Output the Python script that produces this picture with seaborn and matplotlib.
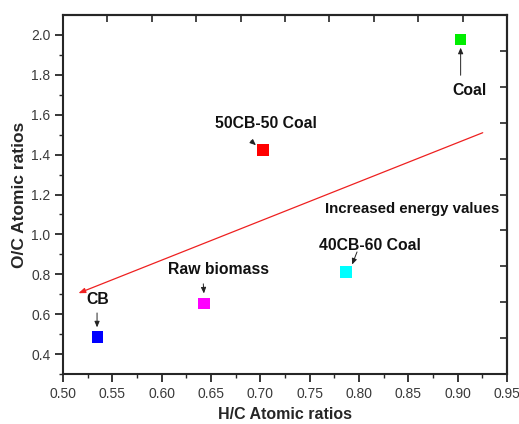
import seaborn as sns
import matplotlib.pyplot as plt
import pandas as pd
import numpy as np

# samples and their atomic ratios
samples = ['CB', 'Raw biomass', '40CB-60 Coal', '50CB-50 Coal', 'Coal']
hc = [0.535, 0.643, 0.787, 0.703, 0.903]
oc = [0.487, 0.654, 0.81, 1.423, 1.978]
colors = ['#0000ff', '#ff00ff', '#00ffff', '#ff0000', '#00ee00']

df = pd.DataFrame({'sample': samples, 'hc': hc, 'oc': oc})

sns.set_style('ticks')
plt.rcParams['font.family'] = ['Liberation Sans', 'DejaVu Sans']

fig = plt.figure(figsize=(5.19, 4.24), dpi=100)
ax = fig.add_axes([0.1214, 0.1179, 0.8555, 0.8467])

sns.scatterplot(data=df, x='hc', y='oc', hue='sample', palette=colors,
                marker='s', s=70, edgecolor='none', legend=False, ax=ax)

# labels with small arrows (text pos, arrow tail, arrow head)
labels = [
    ('CB', (0.5355, 0.676), (0.5345, 0.62), (0.5345, 0.52)),
    ('Raw biomass', (0.658, 0.826), (0.642, 0.766), (0.643, 0.69)),
    ('40CB-60 Coal', (0.8106, 0.942), (0.799, 0.925), (0.792, 0.836)),
    ('50CB-50 Coal', (0.706, 1.558), (0.6885, 1.478), (0.6976, 1.438)),
    ('Coal', (0.9115, 1.724), (0.903, 1.784), (0.903, 1.95)),
]
for txt, pos, tail, head in labels:
    ax.text(pos[0], pos[1], txt, ha='center', va='center', fontsize=11.3,
            fontweight='bold', color='#111111')
    ax.annotate('', xy=head, xytext=tail,
                arrowprops=dict(arrowstyle='-|>,head_length=0.35,head_width=0.15',
                                color='#222222', lw=0.7))

ax.annotate('', xy=(0.513, 0.70), xytext=(0.928, 1.515),
            arrowprops=dict(arrowstyle='-|>,head_length=0.4,head_width=0.15',
                            color='#ee2020', lw=0.9))
ax.text(0.854, 1.127, 'Increased energy values', ha='center', va='center',
        fontsize=10.8, fontweight='bold', color='#111111')

ax.set_xlim(0.5, 0.95)
ax.set_ylim(0.3, 2.1)
ax.set_xticks(np.arange(0.5, 0.951, 0.05))
ax.set_xticks(np.arange(0.525, 0.95, 0.05), minor=True)
ax.set_yticks(np.arange(0.4, 2.01, 0.2))
ax.set_yticks(np.arange(0.3, 2.1, 0.2), minor=True)
ax.xaxis.set_major_formatter(plt.FormatStrFormatter('%.2f'))
ax.yaxis.set_major_formatter(plt.FormatStrFormatter('%.1f'))
ax.tick_params(which='major', direction='out', length=6, width=1.3,
               labelsize=10, labelcolor='#3a3a3a', pad=3)
ax.tick_params(which='minor', direction='out', length=3, width=1)

# mirrored ticks on top and right, pointing inward
top = ax.secondary_xaxis('top')
top.set_xticks(np.linspace(0.5, 0.95, 11)[1:-1])
top.tick_params(direction='in', length=5, width=1.2, labeltop=False)
right = ax.secondary_yaxis('right')
right.set_yticks(np.linspace(0.3, 2.1, 11)[1:-1])
right.tick_params(direction='in', length=5, width=1.2, labelright=False)

for sp in ax.spines.values():
    sp.set_linewidth(1.5)
    sp.set_visible(True)
for s in (top, right):
    for sp in s.spines.values():
        sp.set_linewidth(1.5)

ax.set_xlabel('H/C Atomic ratios', fontsize=11.5, fontweight='bold', labelpad=5)
ax.set_ylabel('O/C Atomic ratios', fontsize=12.5, fontweight='bold', labelpad=3)

fig.savefig('out.png', dpi=100)
